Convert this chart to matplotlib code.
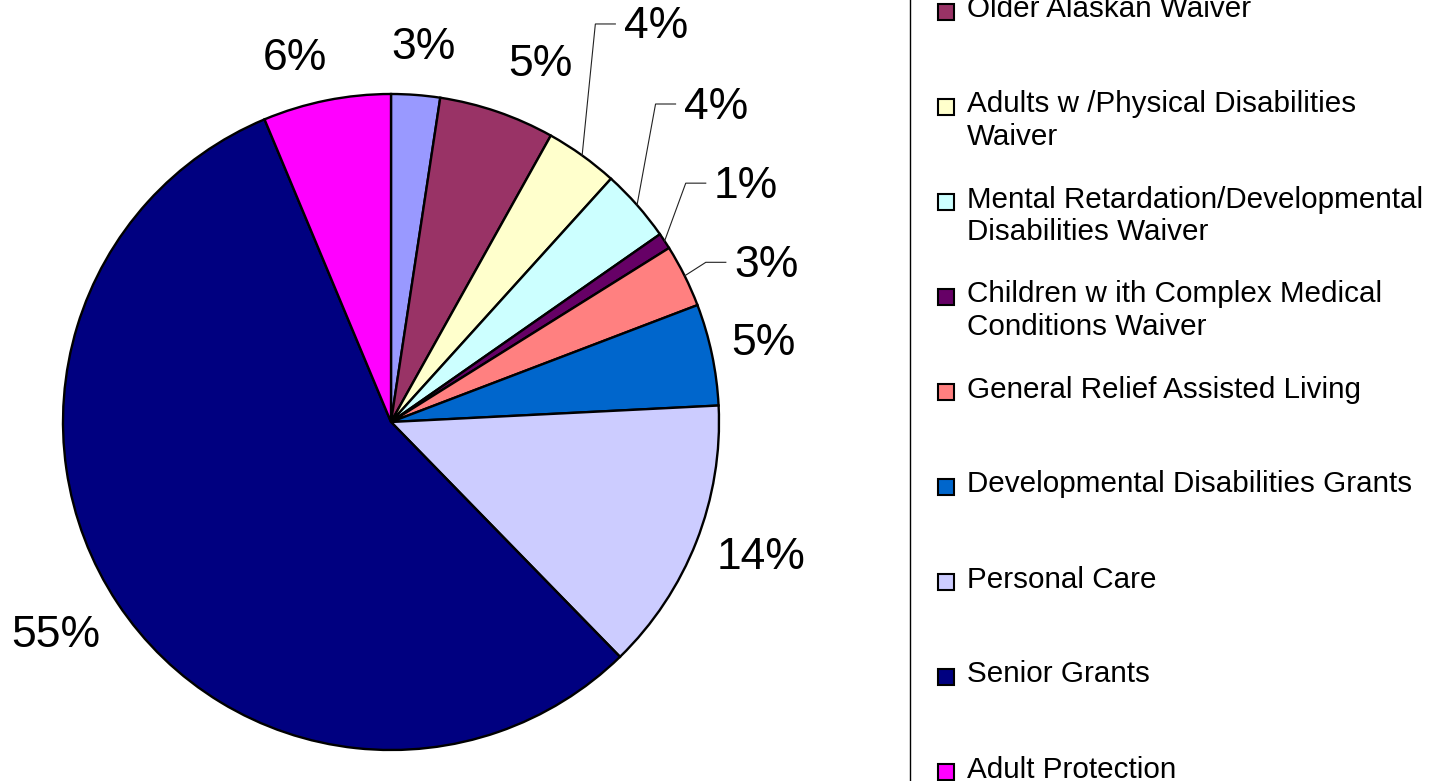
import numpy as np
import matplotlib
matplotlib.use("Agg")
import matplotlib.pyplot as plt
from matplotlib.patches import Rectangle

plt.rcParams['font.family'] = ['Liberation Sans', 'DejaVu Sans']

# data
categories = ["Administration",
              "Older Alaskan Waiver",
              "Adults w /Physical Disabilities\nWaiver",
              "Mental Retardation/Developmental\nDisabilities Waiver",
              "Children w ith Complex Medical\nConditions Waiver",
              "General Relief Assisted Living",
              "Developmental Disabilities Grants",
              "Personal Care",
              "Senior Grants",
              "Adult Protection"]
shares = [2.4, 5.7, 3.6, 3.6, 0.8, 3.1, 5.0, 13.5, 56.0, 6.3]
pct_labels = ['3%', '5%', '4%', '4%', '1%', '3%', '5%', '14%', '55%', '6%']
colors = ['#9999FF', '#993366', '#FFFFCC', '#CCFFFF', '#660066',
          '#FF8080', '#0066CC', '#CCCCFF', '#000080', '#FF00FF']

# label placement (style)
lab_r = [1.145, 1.18, 1.45, 1.38, 1.30, 1.24, 1.16, 1.20, 1.21, 1.147]
lab_off = [0.6, 3.8, -1.8, -2.7, -0.1, 3.8, -0.1, -1.3, 1.0, -3.5]
leader = [False, False, True, True, True, True, False, False, False, False]

W, H = 1431, 781
fig = plt.figure(figsize=(W / 100, H / 100), dpi=100)
cx, cy, R = 391, 422, 328
ax = fig.add_axes([(cx - R) / W, (H - cy - R) / H, 2 * R / W, 2 * R / H])
ax.pie(shares, colors=colors, startangle=90, counterclock=False, radius=1,
       wedgeprops=dict(edgecolor='black', linewidth=1.7))
ax.set_xlim(-1, 1)
ax.set_ylim(-1, 1)
ax.axis('off')

cum = np.cumsum(shares) - np.array(shares) / 2
mids = cum / sum(shares) * 360
px = 1.0 / R  # one pixel in data units
for i, lab in enumerate(pct_labels):
    a = np.radians(mids[i] + lab_off[i])
    tx, ty = lab_r[i] * np.sin(a), lab_r[i] * np.cos(a)
    if leader[i]:
        half_w = 32.5 * px
        left = tx - half_w
        m = np.radians(mids[i])
        sx, sy = np.sin(m), np.cos(m)
        ex, ey = left - 8 * px, ty + 3 * px
        bx = ex - 20 * px
        ax.plot([sx, bx, ex], [sy, ey, ey], color='#222222', lw=0.8,
                clip_on=False, solid_joinstyle='miter')
    ax.text(tx, ty, lab, fontsize=32, ha='center', va='center')

# legend (frame partly outside the canvas, as in the original)
fig.add_artist(plt.Line2D([910 / W, 910 / W], [0, 1], color='black', lw=1,
                          transform=fig.transFigure))
slot = 95
for i, (name, c) in enumerate(zip(categories, colors)):
    yc = 8 + (i - 1) * slot
    fig.add_artist(Rectangle((938 / W, 1 - (yc + 12) / H), 16 / W, 16 / H,
                             facecolor=c, edgecolor='black', lw=1.5,
                             transform=fig.transFigure))
    fig.text(967 / W, 1 - (yc - 12.5) / H, name, fontsize=21.3, ha='left',
             va='top', linespacing=1.19)

fig.savefig('out.png', dpi=100)
